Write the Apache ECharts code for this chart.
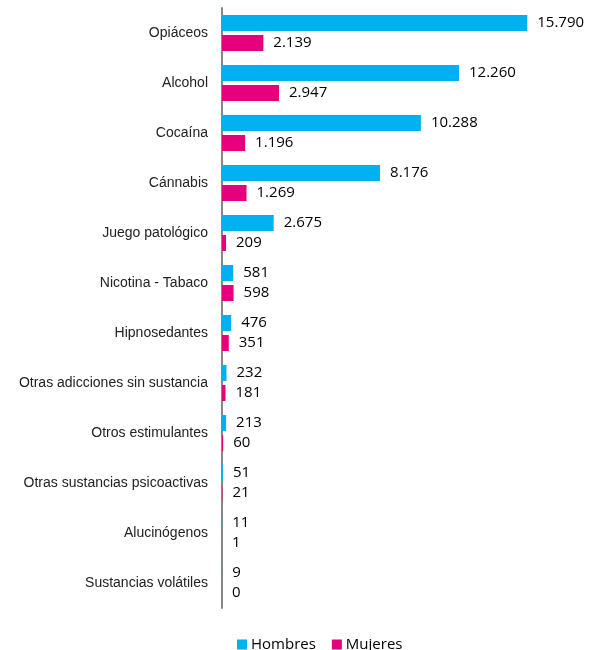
<!DOCTYPE html>
<html><head><meta charset="utf-8">
<script src="https://cdn.jsdelivr.net/npm/echarts@6/dist/echarts.min.js"></script>
<style>html,body{margin:0;padding:0;background:#fff}#c{width:596px;height:650px}</style>
</head><body><div id="c"></div>
<script>
const categories = ["Opiáceos","Alcohol","Cocaína","Cánnabis","Juego patológico","Nicotina - Tabaco","Hipnosedantes","Otras adicciones sin sustancia","Otros estimulantes","Otras sustancias psicoactivas","Alucinógenos","Sustancias volátiles"];
const hombres = [15790,12260,10288,8176,2675,581,476,232,213,51,11,9];
const mujeres = [2139,2947,1196,1269,209,598,351,181,60,21,1,0];
const seriesNames = ["Hombres","Mujeres"];

function fmt(v){ return String(v).replace(/\B(?=(\d{3})+(?!\d))/g, "."); }
const labelFont = "'Open Sans', sans-serif";
const chart = echarts.init(document.getElementById('c'));
chart.setOption({
  animation:false,
  grid:{left:222, right:26, top:8, bottom:42},
  legend:{top:632, left:232, data:seriesNames, itemWidth:10, itemHeight:10, icon:'rect', itemGap:16,
    itemStyle:{borderWidth:0},
    textStyle:{fontSize:15, color:'#000', fontFamily:labelFont, padding:[0,0,0,-1]}},
  xAxis:{type:'value', min:0, max:18000, show:false},
  yAxis:{type:'category', data:categories, inverse:true,
    axisLine:{lineStyle:{color:'#888', width:2}}, axisTick:{show:false},
    axisLabel:{fontSize:14, color:'#222', margin:14, fontFamily:"'Liberation Sans', Arial, sans-serif"}},
  series:[
    {name:seriesNames[0], type:'bar', data:hombres, barWidth:16, barGap:'25%', itemStyle:{color:'#00B0F0'},
     label:{show:true, position:'right', distance:10, fontSize:15, color:'#000', fontFamily:labelFont, formatter:p=>fmt(p.value)}},
    {name:seriesNames[1], type:'bar', data:mujeres, barWidth:16, itemStyle:{color:'#E6007E'},
     label:{show:true, position:'right', distance:10, fontSize:15, color:'#000', fontFamily:labelFont, formatter:p=>fmt(p.value)}}
  ]
});
</script></body></html>
